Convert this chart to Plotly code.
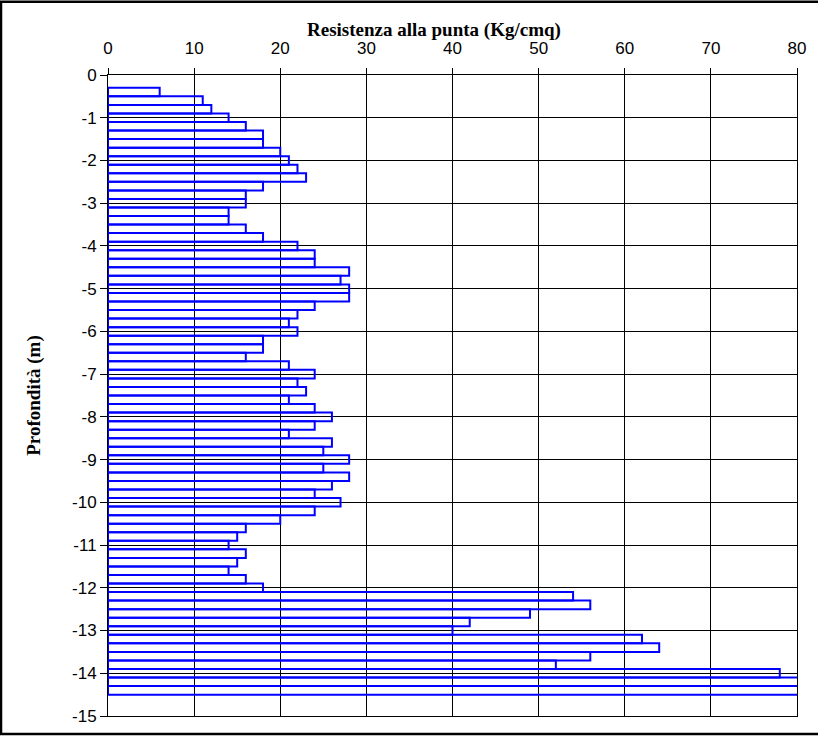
import plotly.graph_objects as go

depth = [-0.4, -0.6, -0.8, -1.0, -1.2, -1.4, -1.6, -1.8, -2.0, -2.2, -2.4, -2.6, -2.8, -3.0,
         -3.2, -3.4, -3.6, -3.8, -4.0, -4.2, -4.4, -4.6, -4.8, -5.0, -5.2, -5.4, -5.6, -5.8,
         -6.0, -6.2, -6.4, -6.6, -6.8, -7.0, -7.2, -7.4, -7.6, -7.8, -8.0, -8.2, -8.4, -8.6,
         -8.8, -9.0, -9.2, -9.4, -9.6, -9.8, -10.0, -10.2, -10.4, -10.6, -10.8, -11.0, -11.2,
         -11.4, -11.6, -11.8, -12.0, -12.2, -12.4, -12.6, -12.8, -13.0, -13.2, -13.4, -13.6,
         -13.8, -14.0, -14.2, -14.4]

resistenza = [6, 11, 12, 14, 16, 18, 18, 20, 21, 22, 23, 18, 16, 16,
              14, 14, 16, 18, 22, 24, 24, 28, 27, 28, 28, 24, 22, 21,
              22, 18, 18, 16, 21, 24, 22, 23, 21, 24, 26, 24, 21, 26,
              25, 28, 25, 28, 26, 24, 27, 24, 20, 16, 15, 14, 16,
              15, 14, 16, 18, 54, 56, 49, 42, 40, 62, 64, 56,
              52, 78, 82, 82]

x_ticks = [0, 10, 20, 30, 40, 50, 60, 70, 80]
y_ticks = [0, -1, -2, -3, -4, -5, -6, -7, -8, -9, -10, -11, -12, -13, -14, -15]

x_title = "Resistenza alla punta (Kg/cmq)"
y_title = "Profondità (m)"

W, H = 818, 738
L, R, T, B = 108, 21, 75, 20
pw, ph = W - L - R, H - T - B

fig = go.Figure()
fig.add_trace(go.Bar(
    x=resistenza, y=depth, orientation="h", width=0.2,
    marker=dict(color="rgba(0,0,0,0)", line=dict(color="#0000FF", width=2)),
    showlegend=False,
))

tickfont = dict(family="Liberation Sans, Arial, sans-serif", size=17, color="black")
titlefont = dict(family="Liberation Serif, Times New Roman, serif", size=19, color="black", weight="bold")

fig.update_layout(
    width=W, height=H,
    margin=dict(l=L, r=R, t=T, b=B, pad=0),
    paper_bgcolor="white", plot_bgcolor="white",
    xaxis=dict(
        side="top", range=[0, 80], tickvals=x_ticks, ticktext=[str(v) for v in x_ticks],
        showgrid=True, gridcolor="black", gridwidth=1,
        showline=True, linecolor="black", linewidth=1, mirror=True,
        ticks="outside", ticklen=6, tickcolor="black", ticklabelstandoff=7,
        tickfont=tickfont, zeroline=False,
    ),
    yaxis=dict(
        range=[-15, 0], tickvals=y_ticks, ticktext=[str(v) for v in y_ticks],
        showgrid=True, gridcolor="black", gridwidth=1,
        showline=True, linecolor="black", linewidth=1, mirror=True,
        ticks="outside", ticklen=7, tickcolor="black",
        tickfont=tickfont, zeroline=False,
        title=dict(text="<b>" + y_title + "</b>", font=titlefont, standoff=26),
    ),
    annotations=[dict(
        text="<b>" + x_title + "</b>", font=titlefont, showarrow=False,
        xref="paper", yref="paper", x=(434 - L) / pw, y=1 + (T - 30) / ph,
        xanchor="center", yanchor="middle",
    )],
    shapes=[dict(
        type="rect", xref="paper", yref="paper",
        x0=(1 - L) / pw, x1=(W + 10 - L) / pw,
        y0=-(H - 2 - (T + ph)) / ph, y1=1 + (T - 1.5) / ph,
        line=dict(color="black", width=2.5), fillcolor="rgba(0,0,0,0)", layer="above",
    )],
)

fig.write_html("out.html", config={"displayModeBar": False},
               post_script="document.body.style.margin='0';document.body.style.overflow='hidden';")
